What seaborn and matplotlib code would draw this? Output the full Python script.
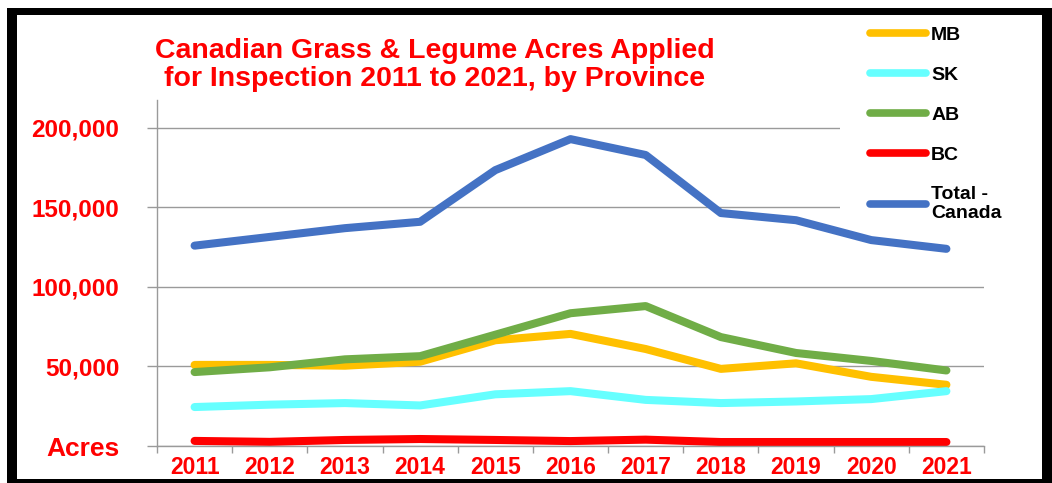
import pandas as pd
import matplotlib
matplotlib.use('Agg')
import matplotlib.pyplot as plt
import seaborn as sns
from matplotlib.patches import Rectangle
from matplotlib.ticker import FixedLocator, NullFormatter

years = [2011, 2012, 2013, 2014, 2015, 2016, 2017, 2018, 2019, 2020, 2021]
mb = [51000, 51000, 50500, 53000, 66500, 70500, 61000, 48500, 52000, 43500, 38500]
sk = [24500, 26000, 27000, 25500, 32500, 34500, 29000, 27000, 28000, 29500, 34500]
ab = [46500, 49500, 54500, 56500, 70000, 83500, 88000, 68500, 58500, 53500, 47500]
bc = [3200, 2600, 3800, 4400, 3800, 3100, 4000, 2500, 2500, 2500, 2500]
total = [126000, 131500, 137000, 141000, 173500, 193000, 183000, 146500, 142000, 129500, 124000]

series_names = ['MB', 'SK', 'AB', 'BC', 'Total -\nCanada']
colors = ['#FFC000', '#66FFFF', '#70AD47', '#FF0000', '#4472C4']
ytick_vals = [0, 50000, 100000, 150000, 200000]
ytick_labels = ['Acres', '50,000', '100,000', '150,000', '200,000']
title = 'Canadian Grass & Legume Acres Applied\nfor Inspection 2011 to 2021, by Province'

# long form table for seaborn
df = pd.DataFrame({'year': years * 5,
                   'acres': mb + sk + ab + bc + total,
                   'province': sum([[n] * len(years) for n in series_names], [])})

sns.set_style('white')
plt.rcParams['font.family'] = ['Liberation Sans', 'DejaVu Sans']
plt.rcParams['font.weight'] = 'bold'

W, H = 1052, 483
fig = plt.figure(figsize=(W / 100, H / 100), dpi=100)
ax = fig.add_axes([157 / W, 1 - 446 / H, (984 - 157) / W, (446 - 100) / H])

sns.lineplot(data=df, x='year', y='acres', hue='province', hue_order=series_names,
             palette=dict(zip(series_names, colors)), linewidth=5.8, ax=ax,
             solid_capstyle='round')

ax.set_xlim(2010.5, 2021.5)
ax.set_ylim(0, 217600)
ax.set_xlabel('')
ax.set_ylabel('')

# y axis
ax.set_yticks(ytick_vals)
ax.set_yticklabels(ytick_labels, color='#FF0000', fontsize=17.5, fontweight='bold')
ax.get_yticklabels()[0].set_fontsize(19)
ax.grid(axis='y', color='#9A9A9A', linewidth=1)
ax.tick_params(axis='y', length=7, width=1, color='#9A9A9A', pad=20, left=True)

# x axis: ticks at boundaries, labels at centres
ax.xaxis.set_major_locator(FixedLocator([y - 0.5 for y in years] + [years[-1] + 0.5]))
ax.xaxis.set_major_formatter(NullFormatter())
ax.set_xticks(years, minor=True)
ax.set_xticklabels([str(y) for y in years], minor=True, color='#FF0000',
                   fontsize=16.5, fontweight='bold')
ax.tick_params(axis='x', which='major', length=5, width=1, color='#9A9A9A', bottom=True)
ax.tick_params(axis='x', which='minor', length=0, pad=7, bottom=True)

for s in ['top', 'right']:
    ax.spines[s].set_visible(False)
for s in ['left', 'bottom']:
    ax.spines[s].set_color('#9A9A9A')
    ax.spines[s].set_linewidth(1)

# legend sits under the data lines but over the grid
handles, labels = ax.get_legend_handles_labels()
leg = ax.legend(handles, labels, loc='upper left',
                bbox_to_anchor=(830 / W, 1 + 13 / H), bbox_transform=fig.transFigure,
                frameon=True, facecolor='white', edgecolor='none', framealpha=1,
                borderpad=1.54, handlelength=2.9, handletextpad=0.26,
                labelspacing=1.14, prop={'size': 14, 'weight': 'bold'},
                labelcolor='black')
leg.set_zorder(1.8)
for line in leg.get_lines():
    line.set_linewidth(5.5)
    line.set_solid_capstyle('round')

fig.text(435 / W, 1 - 65 / H, title, ha='center', va='center', color='#FF0000',
         fontsize=20.5, fontweight='bold', linespacing=1.15)

# black frame around the picture
for x0, y0, w, h in [(7, 8, 10, 475), (7, 8, 1045, 7), (1042, 8, 10, 475), (7, 479, 1045, 4)]:
    fig.add_artist(Rectangle((x0 / W, 1 - (y0 + h) / H), w / W, h / H,
                             transform=fig.transFigure, facecolor='black',
                             edgecolor='none', zorder=10))

fig.savefig('out.png', dpi=100)
